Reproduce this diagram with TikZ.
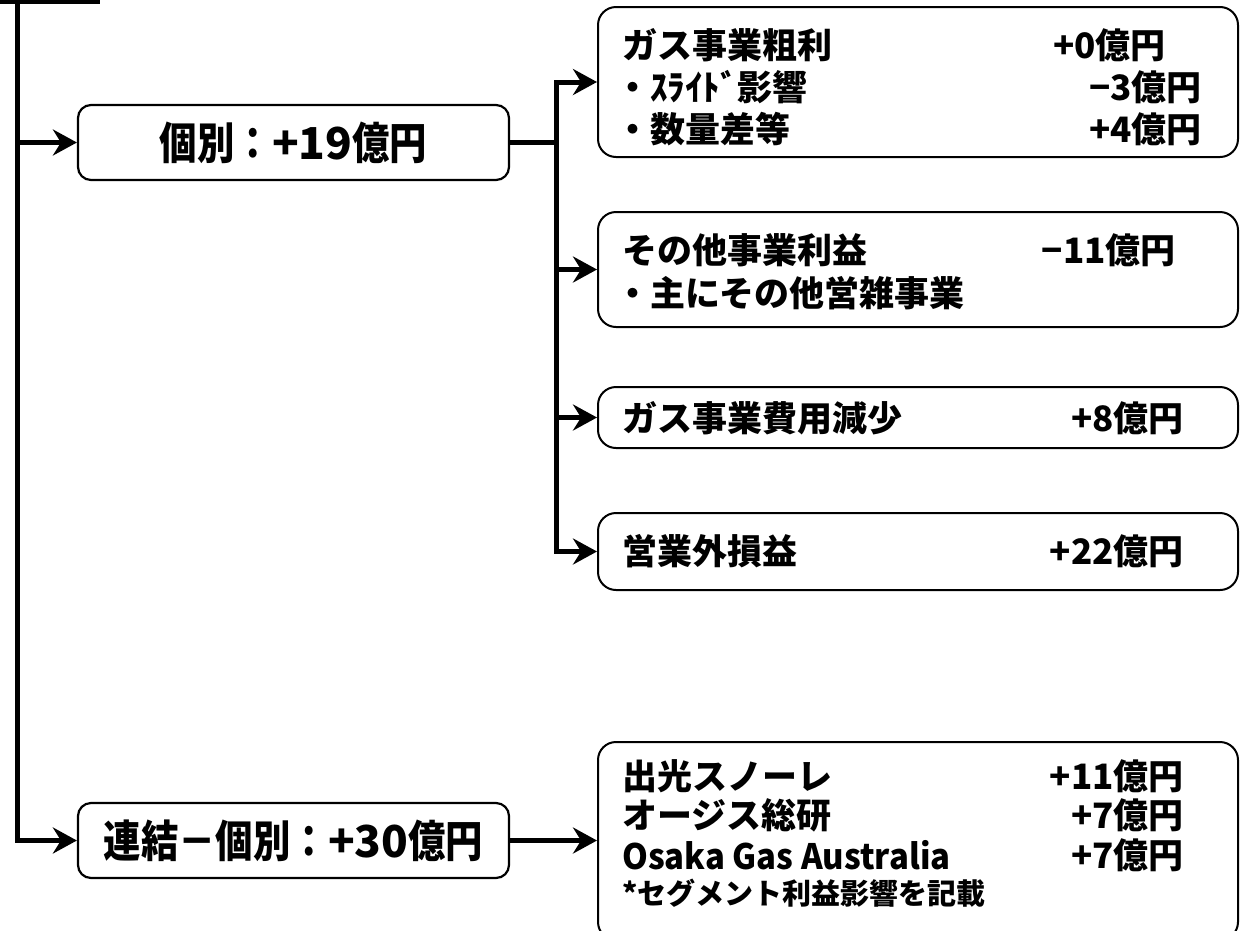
\documentclass[tikz,border=0pt]{standalone}
\usepackage{fontspec}
\usetikzlibrary{arrows.meta}
\newfontfamily\jpfont{Noto Sans CJK JP}
\newfontfamily\jpcond{Noto Sans CJK JP}[FakeStretch=0.85]
\newfontfamily\jpnarrow{Noto Sans CJK JP}[FakeStretch=0.94]
\newcommand\fntA{\jpfont\bfseries\fontsize{35}{42}\selectfont}
\newcommand\fntN{\jpnarrow\bfseries\fontsize{35}{42}\selectfont}
\newcommand\fntS{\jpfont\bfseries\fontsize{29}{34}\selectfont}
\newcommand\fntBC{\jpcond\bfseries\fontsize{44}{50}\selectfont}
\newcommand\fntB{\jpfont\bfseries\fontsize{44}{50}\selectfont}
\tikzset{
  rbox/.style={draw, line width=2pt, rounded corners=18pt, minimum width=640pt, inner sep=0pt},
  lbox/.style={draw, line width=2.2pt, rounded corners=13pt, minimum width=431pt, minimum height=75pt, inner sep=0pt},
  conn/.style={line width=5pt, line join=miter},
  arr/.style={conn, -{Stealth[length=24pt,width=26pt,inset=8pt]}},
  txt/.style={anchor=west, inner sep=0pt, font=\fntA},
  val/.style={anchor=east, inner sep=0pt, font=\fntA},
}
\begin{document}
\begin{tikzpicture}[x=1pt,y=-1pt]
\useasboundingbox (0,0) rectangle (1241,930);
\clip (0,0) rectangle (1241,930);
% cut-off bar at the top left
\draw[line width=4pt] (0,2) -- (100,2);
\coordinate (top) at (17.5,0);
% left boxes
\node[lbox] (kobetsu) at (293.5,142.5) {\fntBC 個別：{\fntB +19}億円};
\node[lbox] (renketsu) at (293.5,840.5) {\fntBC 連結－個別：{\fntB +30}億円};
% right boxes
\node[rbox, minimum height=150pt] (b1) at (918,82) {};
\node[rbox, minimum height=115pt] (b2) at (918,269.5) {};
\node[rbox, minimum height=61pt] (b3) at (918,417.5) {};
\node[rbox, minimum height=77pt] (b4) at (918,551.5) {};
\node[rbox, minimum height=198pt] (b5) at (918,841) {};
% texts box 1
\node[txt] (t11) at (622,45) {ガス事業粗利};
\node[val] (v11) at (1166,45) {+0億円};
\node[txt] (t12) at (615,87) {・ｽﾗｲﾄﾞ影響};
\node[val] (v12) at (1202,87) {−3億円};
\node[txt] (t13) at (615,129) {・数量差等};
\node[val] (v13) at (1202,129) {+4億円};
% box 2
\node[txt] (t21) at (622,250) {その他事業利益};
\node[val] (v21) at (1176,250) {−11億円};
\node[txt] (t22) at (615,293) {・主にその他営雑事業};
% box 3
\node[txt] (t31) at (622,418) {ガス事業費用減少};
\node[val] (v31) at (1184,418) {+8億円};
% box 4
\node[txt] (t41) at (622,551) {営業外損益};
\node[val] (v41) at (1184,551) {+22億円};
% box 5
\node[txt] (t51) at (622,776) {出光スノーレ};
\node[val] (v51) at (1184,776) {+11億円};
\node[txt] (t52) at (622,815) {オージス総研};
\node[val] (v52) at (1184,815) {+7億円};
\node[txt, font=\fntN] (t53) at (622,855) {Osaka Gas Australia};
\node[val] (v53) at (1184,855) {+7億円};
\node[txt, font=\fntS] (t54) at (622,893) {*セグメント利益影響を記載};
% connectors
\draw[arr] (top) |- (renketsu.west);
\draw[arr] (top |- kobetsu.west) -- (kobetsu.west);
\draw[conn] (kobetsu.east) -- ++(46,0) coordinate (br);
\draw[arr] (br) |- (b1.west);
\draw[arr] (br) |- (b4.west);
\draw[arr] (br |- b2.west) -- (b2.west);
\draw[arr] (br |- b3.west) -- (b3.west);
\draw[arr] (renketsu.east) -- (renketsu.east -| b5.west);
\end{tikzpicture}
\end{document}
